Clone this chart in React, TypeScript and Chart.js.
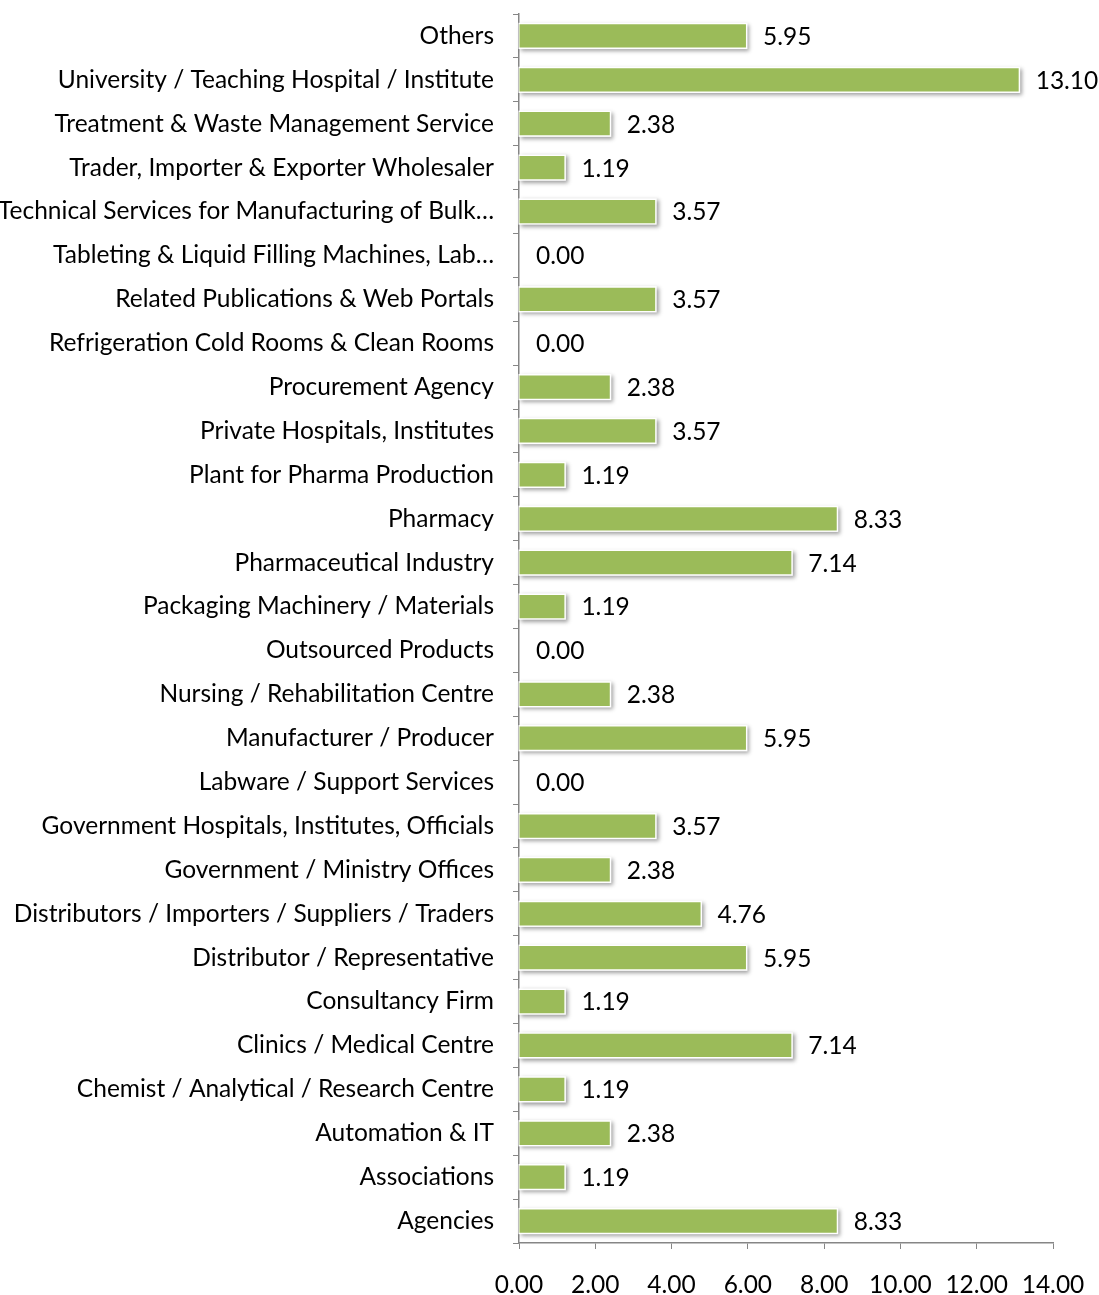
import React, { useEffect, useRef } from "react";
import { Chart, registerables } from "chart.js";

Chart.register(...registerables);

const categories: string[] = [
  "Others",
  "University / Teaching Hospital / Institute",
  "Treatment & Waste Management Service",
  "Trader, Importer & Exporter Wholesaler",
  "Technical Services for Manufacturing of Bulk…",
  "Tableting & Liquid Filling Machines, Lab…",
  "Related Publications & Web Portals",
  "Refrigeration Cold Rooms & Clean Rooms",
  "Procurement Agency",
  "Private Hospitals, Institutes",
  "Plant for Pharma Production",
  "Pharmacy",
  "Pharmaceutical Industry",
  "Packaging Machinery / Materials",
  "Outsourced Products",
  "Nursing / Rehabilitation Centre",
  "Manufacturer / Producer",
  "Labware / Support Services",
  "Government Hospitals, Institutes, Officials",
  "Government / Ministry Offices",
  "Distributors / Importers / Suppliers / Traders",
  "Distributor / Representative",
  "Consultancy Firm",
  "Clinics / Medical Centre",
  "Chemist / Analytical / Research Centre",
  "Automation & IT",
  "Associations",
  "Agencies",
];

const values: number[] = [
  5.95, 13.1, 2.38, 1.19, 3.57, 0.0, 3.57, 0.0, 2.38, 3.57, 1.19, 8.33, 7.14, 1.19,
  0.0, 2.38, 5.95, 0.0, 3.57, 2.38, 4.76, 5.95, 1.19, 7.14, 1.19, 2.38, 1.19, 8.33,
];

const xTicks: number[] = [0, 2, 4, 6, 8, 10, 12, 14];

const FONT = "Lato, 'Open Sans', sans-serif";
const FONT_SIZE = 24.5;
const BAR_COLOR = "#9BBB59";
const AXIS_COLOR = "#868686";

const shadowPlugin = {
  id: "barShadow",
  beforeDatasetsDraw(chart: any) {
    const ctx = chart.ctx;
    const meta = chart.getDatasetMeta(0);
    ctx.save();
    meta.data.forEach((bar: any, i: number) => {
      if (!values[i]) return;
      const { x, y, base, height } = bar.getProps(["x", "y", "base", "height"], true);
      const left = Math.min(base, x);
      const w = Math.abs(x - base);
      ctx.shadowColor = "rgba(0,0,0,0.38)";
      ctx.shadowBlur = 4;
      ctx.shadowOffsetX = 2;
      ctx.shadowOffsetY = 2;
      ctx.fillStyle = "#ffffff";
      ctx.fillRect(left - 1, y - height / 2 - 1.5, w + 2.5, height + 3);
    });
    ctx.restore();
  },
};

const labelPlugin = {
  id: "valueLabels",
  afterDatasetsDraw(chart: any) {
    const ctx = chart.ctx;
    const meta = chart.getDatasetMeta(0);
    ctx.save();
    ctx.font = `${FONT_SIZE}px ${FONT}`;
    ctx.fillStyle = "#000000";
    ctx.textAlign = "left";
    ctx.textBaseline = "middle";
    meta.data.forEach((bar: any, i: number) => {
      const v = values[i];
      ctx.fillText(v.toFixed(2), bar.x + 17, bar.y + 1);
    });
    ctx.restore();
  },
};

export default function App() {
  const ref = useRef<HTMLCanvasElement | null>(null);

  useEffect(() => {
    if (!ref.current) return;
    const chart = new Chart(ref.current, {
      type: "bar",
      data: {
        labels: categories,
        datasets: [
          {
            data: values,
            backgroundColor: BAR_COLOR,
            borderWidth: 0,
            barPercentage: 0.53,
            categoryPercentage: 1,
          },
        ],
      },
      options: {
        indexAxis: "y",
        responsive: false,
        animation: false,
        layout: { padding: { top: 14, right: 46, left: 0, bottom: 0 } },
        plugins: {
          legend: { display: false },
          tooltip: { enabled: false },
        },
        scales: {
          x: {
            type: "linear",
            min: 0,
            max: 14,
            afterFit(scale: any) {
              scale.height = 52;
              scale.paddingLeft = 0;
              scale.paddingRight = 0;
            },
            afterBuildTicks(scale: any) {
              scale.ticks = xTicks.map((v) => ({ value: v }));
            },
            ticks: {
              color: "#000000",
              font: { family: FONT, size: FONT_SIZE },
              padding: 21,
              maxRotation: 0,
              autoSkip: false,
              callback: (v: any) => Number(v).toFixed(2),
            },
            grid: {
              drawOnChartArea: false,
              drawTicks: true,
              tickLength: 6,
              color: AXIS_COLOR,
            },
            border: { display: true, color: AXIS_COLOR, width: 1.5 },
          },
          y: {
            type: "category",
            afterFit(scale: any) {
              scale.width = 519;
              scale.paddingTop = 0;
              scale.paddingBottom = 0;
            },
            ticks: {
              color: "#000000",
              font: { family: FONT, size: FONT_SIZE },
              padding: 19,
              autoSkip: false,
            },
            grid: {
              offset: true,
              drawOnChartArea: false,
              drawTicks: true,
              tickLength: 6,
              color: AXIS_COLOR,
            },
            border: { display: true, color: AXIS_COLOR, width: 1.5 },
          },
        },
      },
      plugins: [shadowPlugin, labelPlugin],
    });
    return () => chart.destroy();
  }, []);

  return (
    <div style={{ position: "absolute", left: 0, top: 0, width: 1099, height: 1295, background: "#fff" }}>
      <canvas ref={ref} width={1099} height={1295} />
    </div>
  );
}
